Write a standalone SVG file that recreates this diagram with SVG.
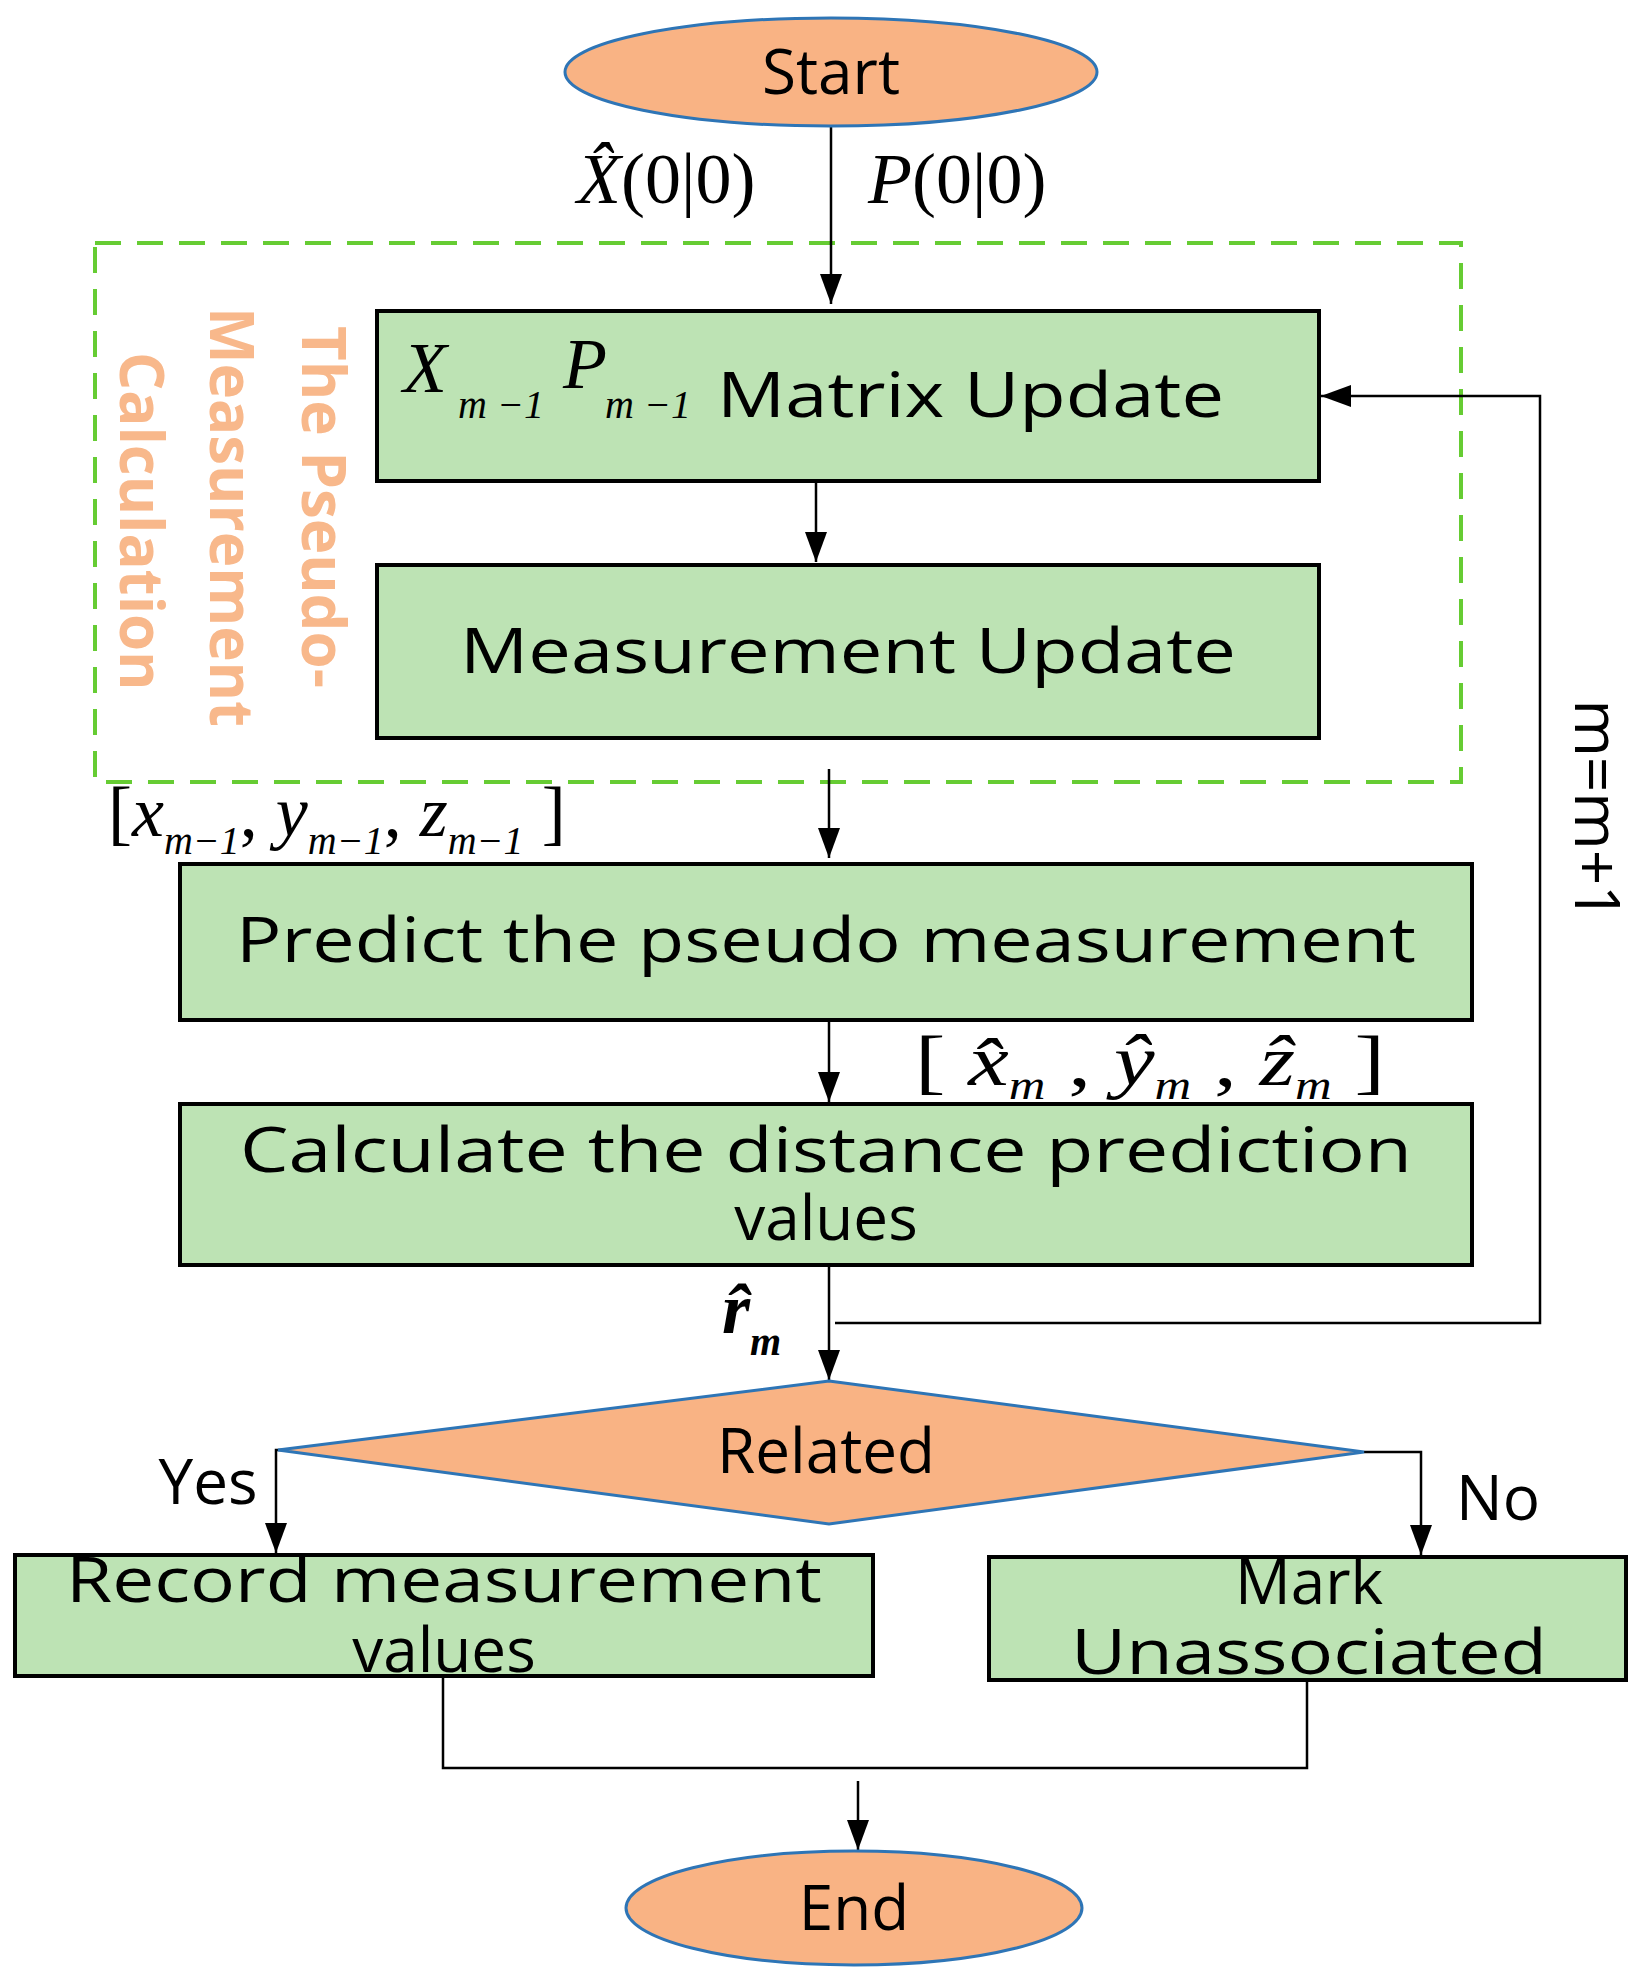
<svg xmlns="http://www.w3.org/2000/svg" width="1644" height="1983" viewBox="0 0 1644 1983">
<style>
.box{fill:#bde3b4;stroke:#000;stroke-width:4}
.term{fill:#f9b384;stroke:#2e75b6;stroke-width:3}
.t{font-family:"Open Sans","Noto Sans",sans-serif;font-size:62px;fill:#000;text-anchor:middle}
.m{font-family:"Liberation Serif",serif;font-size:72px;fill:#000}
.i{font-style:italic}
.s{font-family:"Liberation Serif",serif;font-style:italic;font-size:40px}
.c{fill:none;stroke:#000;stroke-width:2.5}
.o{font-family:"Open Sans","Noto Sans",sans-serif;font-weight:bold;font-size:60px;fill:#f8b88b}
</style>
<defs><marker id="b" markerWidth="30" markerHeight="30" refX="30" refY="15" orient="auto" markerUnits="userSpaceOnUse" viewBox="0 0 30 30"><path d="M0,4L30,15L0,26z" fill="#000"/></marker></defs>
<rect x="95" y="243" width="1366" height="539" fill="none" stroke="#66cc33" stroke-width="4" stroke-dasharray="26,16"/>
<g class="o">
<text transform="translate(302,326) rotate(90)">The Pseudo-</text>
<text transform="translate(210,307) rotate(90)">Measurement</text>
<text transform="translate(120,352) rotate(90)">Calculation</text>
</g>
<g id="connectors">
<path class="c" d="M831,127V304" marker-end="url(#b)"/>
<path class="c" d="M816,481V562" marker-end="url(#b)"/>
<path class="c" d="M829,769V858" marker-end="url(#b)"/>
<path class="c" d="M829,1020V1102" marker-end="url(#b)"/>
<path class="c" d="M829,1265V1380" marker-end="url(#b)"/>
<path class="c" d="M835,1323H1540V396H1321" marker-end="url(#b)"/>
<path class="c" d="M290,1450H276V1553" marker-end="url(#b)" stroke-width="4"/>
<path class="c" d="M1364,1452H1421V1555" marker-end="url(#b)" stroke-width="4"/>
<path class="c" d="M443,1676V1768H1307V1680" stroke-width="4"/>
<path class="c" d="M858,1781V1850" marker-end="url(#b)"/>
</g>
<g id="start"><ellipse class="term" cx="831" cy="72" rx="266" ry="54"/><text class="t" x="831" y="94">Start</text></g>
<text class="m" x="577" y="203"><tspan class="i">X̂</tspan>(0|0)</text>
<text class="m" x="868" y="203"><tspan class="i">P</tspan>(0|0)</text>
<g id="n1"><rect class="box" x="377" y="311" width="942" height="170"/>
<text class="m i" x="403" y="392" font-size="60">X</text><text class="s" x="458" y="418">m −1</text>
<text class="m i" x="563" y="388" font-size="60">P</text><text class="s" x="605" y="418">m −1</text>
<text class="t" x="717" y="417" style="text-anchor:start" textLength="507" lengthAdjust="spacingAndGlyphs">Matrix Update</text></g>
<g id="n2"><rect class="box" x="377" y="565" width="942" height="173"/><text class="t" x="848" y="673" textLength="776" lengthAdjust="spacingAndGlyphs">Measurement Update</text></g>
<text class="m" x="108" y="836" font-size="66">[<tspan class="i">x</tspan><tspan class="s" dy="18">m−1</tspan><tspan dy="-18">, </tspan><tspan class="i">y</tspan><tspan class="s" dy="18">m−1</tspan><tspan dy="-18">, </tspan><tspan class="i">z</tspan><tspan class="s" dy="18">m−1</tspan><tspan dy="-18"> ]</tspan></text>
<g id="n3"><rect class="box" x="180" y="864" width="1292" height="156"/><text class="t" x="826" y="962" textLength="1180" lengthAdjust="spacingAndGlyphs">Predict the pseudo measurement</text></g>
<text class="m" x="915" y="1085" textLength="470" lengthAdjust="spacingAndGlyphs">[ <tspan class="i">x̂</tspan><tspan class="s" dy="14">m</tspan><tspan dy="-14"> , </tspan><tspan class="i">ŷ</tspan><tspan class="s" dy="14">m</tspan><tspan dy="-14"> , </tspan><tspan class="i">ẑ</tspan><tspan class="s" dy="14">m</tspan><tspan dy="-14"> ]</tspan></text>
<g id="n4"><rect class="box" x="180" y="1104" width="1292" height="161"/>
<text class="t" x="826" y="1172" textLength="1172" lengthAdjust="spacingAndGlyphs">Calculate the distance prediction</text>
<text class="t" x="826" y="1240">values</text></g>
<text class="m i" x="722" y="1333" font-weight="bold" font-size="64">r̂<tspan class="s" dy="22">m</tspan></text>
<g id="d"><path d="M829,1381L1364,1452L829,1524L278,1450Z" fill="#f9b384" stroke="#2e75b6" stroke-width="3"/><text class="t" x="826" y="1473">Related</text></g>
<text class="t" x="208" y="1504">Yes</text>
<text class="t" x="1498" y="1520">No</text>
<g id="n5"><rect class="box" x="15" y="1555" width="858" height="121"/>
<text class="t" x="444" y="1602" textLength="756" lengthAdjust="spacingAndGlyphs">Record measurement</text>
<text class="t" x="444" y="1672">values</text></g>
<g id="n6"><rect class="box" x="989" y="1557" width="637" height="123"/>
<text class="t" x="1309" y="1604">Mark</text>
<text class="t" x="1309" y="1674" textLength="476" lengthAdjust="spacingAndGlyphs">Unassociated</text></g>
<g id="end"><ellipse class="term" cx="854" cy="1908" rx="228" ry="57"/><text class="t" x="854" y="1930">End</text></g>
<text class="t" transform="translate(1575,810) rotate(90)" font-size="52">m=m+1</text>
</svg>
